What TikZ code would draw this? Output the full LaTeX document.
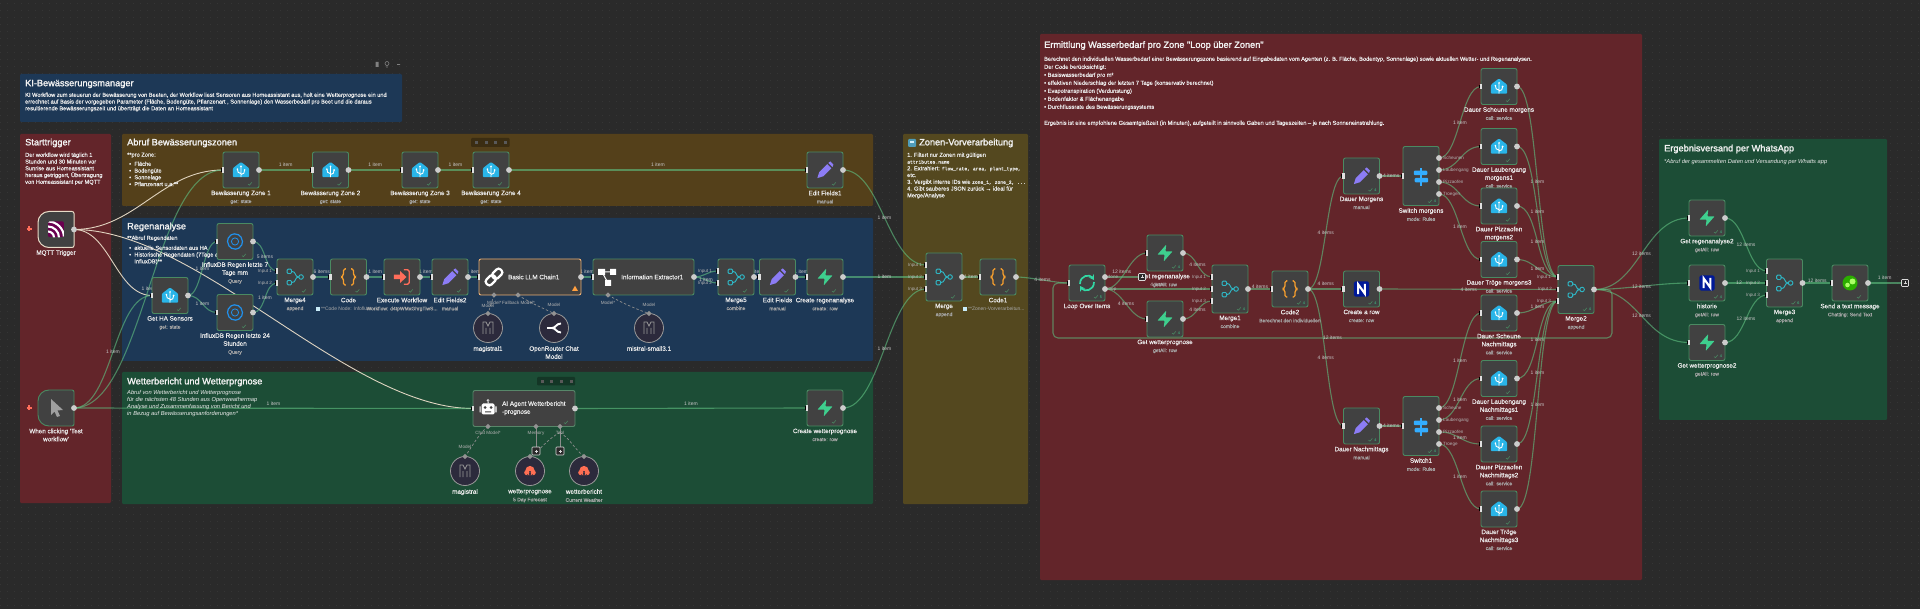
\documentclass[tikz,border=0pt]{standalone}
\usepackage{fontspec}
\setmainfont{Liberation Sans}
\setmonofont{Liberation Mono}
\newfontfamily\mdm[FakeBold=0.35]{Liberation Sans}
\newfontfamily\hdg[FakeBold=1.6]{Liberation Sans}
\newfontfamily\mnf[FakeBold=0.4]{Liberation Mono}
\usetikzlibrary{calc,arrows.meta}
\pgfdeclarelayer{groups}\pgfdeclarelayer{edges}
\pgfsetlayers{groups,edges,main}
\definecolor{bgc}{HTML}{2A2A2A}
\definecolor{dotc}{HTML}{353535}
\definecolor{gblue}{HTML}{1D3856}
\definecolor{gred}{HTML}{63252A}
\definecolor{gbrown}{HTML}{54401A}
\definecolor{ggreen}{HTML}{1C4D36}
\definecolor{golive}{HTML}{54481F}
\definecolor{nfill}{HTML}{414141}
\definecolor{nedge}{HTML}{4A8A62}
\definecolor{subc}{HTML}{A8A8A8}
\definecolor{wirec}{HTML}{5FBE80}
\definecolor{palec}{HTML}{E8DCC8}
\definecolor{teal1}{HTML}{2FB6C4}
\definecolor{ha}{HTML}{29B5E8}
\definecolor{supa}{HTML}{3ECF8E}
\definecolor{purp}{HTML}{8C7CF5}
\definecolor{orng}{HTML}{F59E2E}
\definecolor{cored}{HTML}{FF6D5A}
\definecolor{circf}{HTML}{2C2A3C}
\newcommand\fsz[2]{\fontsize{#1}{#2}\selectfont}
\newcommand\subf{\fontsize{5}{8}\selectfont\color{subc}}
\newcommand\mon[1]{{\mnf\fontsize{4.7}{6.75}\selectfont #1}}
\tikzset{
  x=1pt,y=-1pt,
  nbox/.style={draw=nedge,fill=nfill,line width=.9pt,rounded corners=2pt,minimum width=36pt,minimum height=36pt,inner sep=0pt,outer sep=0pt},
  circbox/.style={circle,draw=gray!80,fill=circf,line width=.8pt,minimum size=29pt,inner sep=0pt,outer sep=0pt},
  nlabel/.style={font=\mdm\fsz{6.3}{8},text=white!92!black,align=center,inner sep=0pt,anchor=north},
  wire/.style={draw=wirec,draw opacity=.62,line width=1.1pt},
  pale/.style={draw=palec,draw opacity=.95,line width=.9pt},
  subwire/.style={draw=gray!90!white,dashed,line width=.7pt,dash pattern=on 2.5pt off 2pt},
  elab/.style={font=\fsz{5}{6},text=white!78!black,inner sep=0pt},
  plab/.style={font=\fsz{4.6}{6},text=white!70!black,inner sep=0pt},
  heading/.style={font=\hdg\fsz{9.2}{11},text=white!95!black,anchor=west,inner sep=0pt},
  desc/.style={font=\mdm\fsz{5.65}{6.75},text=white!92!black,anchor=north west,align=left,inner sep=0pt},
  idesc/.style={font=\itshape\fsz{5.75}{6.75},text=white!92!black,anchor=north west,align=left,inner sep=0pt},
  plusbox/.style={draw=white!85!black,fill=bgc,line width=.6pt,rounded corners=.8pt,minimum size=7pt,inner sep=0pt,outer sep=0pt},
}
% icons
\newcommand\icoHA[1]{\begin{scope}[shift={(#1)},scale=.9]
 \fill[ha,rounded corners=1pt] (0,-9)--(9,-2)--(9,8)--(-9,8)--(-9,-2)--cycle;
 \draw[white,line width=.9pt] (0,8)--(0,-4) (0,4) .. controls (-3,4) and (-4,2) .. (-4,-1) (0,5) .. controls (3,5) and (4,3) .. (4,0);
 \fill[white] (0,-4) circle (1) (-4,-1) circle (1) (4,0) circle (1);
\end{scope}}
\newcommand\icoMerge[1]{\begin{scope}[shift={(#1)},scale=.87]
 \draw[teal1,line width=.95pt,rounded corners=1pt] (-9,-9) rectangle (-4,-4) (-9,4) rectangle (-4,9);
 \draw[teal1,line width=.95pt] (7,0) circle (2.6) (-4,-6.5) .. controls (2,-6.5) and (-1,0) .. (4.4,0) (-4,6.5) .. controls (2,6.5) and (-1,0) .. (4.4,0);
\end{scope}}
\newcommand\icoCode[1]{\begin{scope}[shift={(#1)},scale=.9]
 \draw[orng,line width=1.3pt,rounded corners=1.5pt] (-3,-9)--(-5.5,-9)--(-5.5,-2)--(-8,0)--(-5.5,2)--(-5.5,9)--(-3,9);
 \draw[orng,line width=1.3pt,rounded corners=1.5pt] (3,-9)--(5.5,-9)--(5.5,-2)--(8,0)--(5.5,2)--(5.5,9)--(3,9);
\end{scope}}
\newcommand\icoExec[1]{\begin{scope}[shift={(#1)},scale=.9]
 \fill[cored] (-9,-2.5)--(-2,-2.5)--(-2,-6.5)--(5,0)--(-2,6.5)--(-2,2.5)--(-9,2.5)--cycle;
 \draw[cored,line width=1.3pt,rounded corners=1.5pt] (2,-8)--(8,-8)--(8,8)--(2,8);
\end{scope}}
\newcommand\icoEdit[1]{\begin{scope}[shift={(#1)},scale=.9]
 \fill[purp] (-8.5,9)--(-6.5,2.5)--(2.5,-6.5)--(7,-2)--(-2,7)--cycle;
 \fill[purp] (3.8,-7.8)--(5.8,-9.6)--(9.4,-6)--(8.2,-3.2)--cycle;
\end{scope}}
\newcommand\icoSupa[1]{\begin{scope}[shift={(#1)},scale=.84]
 \fill[supa,rounded corners=.6pt] (1.5,-10)--(-9,2)--(-.5,2)--(-1.5,10)--(9,-2)--(.5,-2)--cycle;
\end{scope}}
\newcommand\icoInflux[1]{\begin{scope}[shift={(#1)},scale=.9]
 \draw[ha!80!blue,line width=1.2pt,rounded corners=2pt] (-3,-9)--(6,-7)--(9,2)--(3,9)--(-6,7)--(-9,-2)--cycle;
 \draw[ha!80!blue,line width=.8pt] (0,0) circle (4);
\end{scope}}
\newcommand\icoNotion[1]{\begin{scope}[shift={(#1)},scale=.84]
 \fill[blue!55!black!90!cyan,rounded corners=1.5pt] (-9,-9) rectangle (9,9);
 \draw[white,line width=2.1pt,line join=miter] (-4,6)--(-4,-5.5)--(4,5.5)--(4,-6);
\end{scope}}
\newcommand\icoLoop[1]{\begin{scope}[shift={(#1)}]
 \draw[supa!80!cyan,line width=1.7pt,-{Stealth[length=5pt,width=6pt]}] (-7,1) .. controls (-7,-8) and (3,-9) .. (7,-3);
 \draw[supa!80!cyan,line width=1.7pt,-{Stealth[length=5pt,width=6pt]}] (7,-1) .. controls (7,8) and (-3,9) .. (-7,3);
\end{scope}}
\newcommand\icoSwitch[1]{\begin{scope}[shift={(#1)},scale=.9]
 \fill[blue!40!cyan!80!white] (-1,-9) rectangle (1,11);
 \fill[blue!40!cyan!80!white,rounded corners=1pt] (-8,-6) rectangle (7,-1) (-7,2) rectangle (8,7);
\end{scope}}
\newcommand\icoLink[1]{\begin{scope}[shift={(#1)},rotate=45]
 \draw[white,line width=2.2pt,rounded corners=2.8pt] (-10,-3.5) rectangle (1,3.5) (-1,-3.5) rectangle (10,3.5);
\end{scope}}
\newcommand\icoTree[1]{\begin{scope}[shift={(#1)}]
 \draw[white,line width=1pt] (-5,-5)--(6,-5) (-5,-5)--(1,6);
 \fill[white] (-9,-8) rectangle (-2,-2) (3,-8) rectangle (9,-2) (-2,3) rectangle (4,9);
\end{scope}}
\newcommand\icoRobot[1]{\begin{scope}[shift={(#1)}]
 \fill[white,rounded corners=1.5pt] (-6.5,-5) rectangle (6.5,6);
 \fill[white] (-8.5,-2) rectangle (-7.3,4) (7.3,-2) rectangle (8.5,4) (0,-8) circle (1.3) (-.5,-8) rectangle (.5,-5);
 \fill[nfill] (-3,-1) circle (1.5) (3,-1) circle (1.5) (-3,3) rectangle (3,4);
\end{scope}}
\newcommand\icoMistral[1]{\begin{scope}[shift={(#1)}]
 \draw[gray!80,line width=.7pt] (-5,6)--(-5,-6)--(-2,-6)--(0,-2)--(2,-6)--(5,-6)--(5,6) (-2,6)--(-2,0) (2,6)--(2,0);
\end{scope}}
\newcommand\icoRouter[1]{\begin{scope}[shift={(#1)}]
 \draw[white,line width=1.9pt] (7,-4.5) .. controls (2,-4.5) and (2,0) .. (-2,0) .. controls (2,0) and (2,4.5) .. (7,4.5) (-7,0)--(-1,0);
\end{scope}}
\newcommand\icoWeather[1]{\begin{scope}[shift={(#1)}]
 \fill[cored!92!orange] (0,-.5) circle (4.6) (-3.2,1.6) circle (2.6) (3.2,1.6) circle (2.6) (-3.2,0) rectangle (3.2,4.2);
\end{scope}}
\newcommand\icoChat[1]{\begin{scope}[shift={(#1)}]
 \fill[green!60!olive!85!black] (0,0) circle (7.5);
 \fill[green!55!yellow!60!white] (2.5,-1.5) circle (3) (-2.5,2) circle (2.3);
\end{scope}}
\newcommand\icoMqtt[1]{\begin{scope}[shift={(#1)}]
 \begin{scope}\clip[rounded corners=1.5pt] (-8,-8) rectangle (8,8);
 \fill[violet!70!black!90!red] (-8,-8) rectangle (8,8);
 \draw[white,line width=2.1pt] (-8,8) circle (6) (-8,8) circle (11) (-8,8) circle (16);
 \end{scope}
\end{scope}}
\newcommand\icoCursor[1]{\begin{scope}[shift={(#1)}]
 \fill[gray!75!white] (-5,-9)--(7,2)--(1.5,2.5)--(4,8)--(1,9)--(-1.5,3.5)--(-5,7)--cycle;
\end{scope}}
% helpers
\newcommand\mk[6][]{\node[nbox,#1] (#2) at (#3) {};
 \csname ico#4\endcsname{#2.center}
 \node[nlabel] (#2-l) at ($(#2.south)+(0,2.5)$) {#5\\{\subf #6}};}
\newcommand\outp[1]{\fill[white!80!black,shift={(#1)}] (0,0) circle (2.9);}
\newcommand\inp[1]{\fill[white!88!black,shift={(#1)}] (-1.4,-2.6) rectangle (1.4,2.6);\fill[black,shift={(#1)}] (-2.2,-1.6) rectangle (-1.4,1.6);}
\newcommand\pp[1]{\inp{#1.west}\outp{#1.east}}
\newcommand\tck[1]{\draw[nedge,line width=.55pt,shift={($(#1.south east)+(-9,-4)$)}] (-2,0)--(-.6,1.2)--(1.8,-1.6);}
\newcommand\cnt[2]{\tck{#1}\node[font=\fsz{3.8}{4},text=supa,inner sep=0pt] (#1-c) at ($(#1.south east)+(-4,-4)$) {#2};}
\newcommand\eds[5][]{\begin{pgfonlayer}{edges}\draw[wire,#1] (#2) -- node[elab,yshift=#4] {#5} (#3);\end{pgfonlayer}}
\newcommand\edc[5][]{\begin{pgfonlayer}{edges}\draw[wire,#1] (#2) .. controls +(#4,0) and +(-#4,0) .. (#3) node[elab,midway] {#5};\end{pgfonlayer}}
\newcommand\grp[3]{\fill[#1,rounded corners=1.2pt] (#2) rectangle (#3);}
\newcommand\tbar[3]{\fill[black!30!#3,rounded corners=1pt] (#1) rectangle (#2);}
\newcommand\dmd[1]{\fill[gray!85!white,shift={(#1)}] (0,-2.6)--(2.6,0)--(0,2.6)--(-2.6,0)--cycle;}
\begin{document}
\begin{tikzpicture}
\useasboundingbox (0,0) rectangle (1920,609);
\begin{pgfonlayer}{groups}
\fill[bgc] (0,0) rectangle (1920,609);
\foreach \yy in {3,10,...,605} {\draw[dotc,line width=.8pt,dash pattern=on .8pt off 6.2pt] (0,\yy) -- (1920,\yy);}
\grp{gblue}{20,74}{402,122}
\grp{gred}{20,134}{111,503}
\grp{gbrown}{122,134}{873,206}
\grp{gblue}{122,218}{873,361}
\grp{ggreen}{122,372}{873,504}
\grp{golive}{903,134}{1028,504}
\grp{gred}{1040,34}{1642,580}
\grp{ggreen}{1659,139}{1887,420}
\end{pgfonlayer}
% small toolbars
\fill[gray] (375.5,62) rectangle (378.5,67) (397,64.2) rectangle (400,65);
\draw[gray,line width=.6pt] (387,63.5) circle (2) (387,65.5)--(387,68);
\tbar{471,138}{509.5,147}{gbrown}
\tbar{537,377}{575,385.5}{ggreen}
\foreach \xx in {475,485,494,504} {\fill[gray!70!black] (\xx,141) rectangle ++(2.5,3);}
\foreach \xx in {541,550,560,570} {\fill[gray!70!black] (\xx,380) rectangle ++(2.5,2.8);}
% texts of groups
\node[heading] (h0) at (25,84) {KI-Bewässerungsmanager};
\node[desc] (d0) at (25,92.5) {KI Workflow zum steuerun der Bewässerung von Beeten, der Workflow liest Sensoren aus Homeassistant aus, holt eine Wetterprognose ein und\\errechnet auf Basis der vorgegeben Parameter (Fläche, Bodengüte, Pflanzenart , Sonnenlage) den Wasserbedarf pro Beet und die daraus\\resultierende Bewässerungszeit und überträgt die Daten an Homeassistant};
\node[heading] (h1) at (25,143) {Starttrigger};
\node[desc] (d1) at (25,152.5) {Der workflow wird täglich 1\\Stunden und 30 Minuten vor\\Sunrise aus Homeassistant\\heraus getriggert, Übertragung\\von Homeassistant per MQTT};
\node[heading] (h2) at (127,143) {Abruf Bewässerungszonen};
\node[desc] (d2) at (127,152.5) {**pro Zone:};
\node[desc] (d2b) at (129,161.5) {•\ \ Fläche\\•\ \ Bodengüte\\•\ \ Sonnelage\\•\ \ Pflanzenart u.a.**};
\node[heading] (h3) at (127,227) {Regenanalyse};
\node[desc] (d3) at (127,235.5) {**Abruf Regendaten};
\node[desc] (d3b) at (129,245.5) {•\ \ aktuelle Sensordaten aus HA\\•\ \ Historische Regendaten (7Tage aus\\\hphantom{•\ \ }InfluxDB)**};
\node[heading] (h4) at (127,382) {Wetterbericht und Wetterprgnose};
\node[idesc] (d4) at (127,390.5) {Abruf von Wetterbericht und Wetterprognose\\für die nächsten 48 Stunden aus Openweathermap\\Analyse und Zusammenfassung von Bericht und\\in Bezug auf Bewässerungsanforderungen*};
\fill[ha!55!gray,rounded corners=1pt] (908,139) rectangle (916,147);
\fill[white!80!ha] (909.8,141) rectangle (914.2,143);
\node[heading] (h5) at (919,143) {Zonen-Vorverarbeitung};
\node[desc] (d5) at (907,152.5) {1. Filtert nur Zonen mit gültigen\\\mon{attributes.name}\\2. Extrahiert: \mon{flow\_rate, area, plant\_type,}\\etc.\\3. Vergibt interne IDs wie \mon{zone\_1, zone\_2, ...}\\4. Gibt sauberes JSON zurück → ideal für\\Merge/Analyse};
\node[heading] (h6) at (1044,45.5) {Ermittlung Wasserbedarf pro Zone "Loop über Zonen"};
\node[desc,font=\mdm\fsz{5.65}{8}] (d6) at (1044,56.5) {Berechnet den individuellen Wasserbedarf einer Bewässerungszone basierend auf Eingabedaten vom Agenten (z. B. Fläche, Bodentyp, Sonnenlage) sowie aktuellen Wetter- und Regenanalysen.\\Der Code berücksichtigt:\\• Basiswasserbedarf pro m²\\• effektiven Niederschlag der letzten 7 Tage (konservativ berechnet)\\• Evapotranspiration (Verdunstung)\\• Bodenfaktor \& Flächenangabe\\• Durchflussrate des Bewässerungssystems\\ \\Ergebnis ist eine empfohlene Gesamtgießzeit (in Minuten), aufgeteilt in sinnvolle Gaben und Tageszeiten – je nach Sonneneinstrahlung.};
\node[heading] (h7) at (1664,149) {Ergebnisversand per WhatsApp};
\node[idesc] (d7) at (1664,159) {*Abruf der gesammelten Daten und Versandung per Whatts app};
% trigger column
\node[minimum width=36pt,minimum height=36pt,inner sep=0pt,outer sep=0pt] (mqtt) at (56,229.5) {};
\draw[draw=palec,fill=nfill,line width=1pt,rounded corners=2pt] (63,211.5)--(74,211.5)--(74,247.5)--(63,247.5) [rounded corners=11pt] --(38,247.5)--(38,211.5)--(63,211.5);
\icoMqtt{mqtt.center}
\node[nlabel] (mqtt-l) at (56,250) {MQTT Trigger};
\outp{mqtt.east}
\node[minimum width=36pt,minimum height=36pt,inner sep=0pt,outer sep=0pt] (click) at (56,408) {};
\draw[draw=nedge,fill=nfill,line width=.9pt,rounded corners=2pt] (63,390)--(74,390)--(74,426)--(63,426) [rounded corners=11pt] --(38,426)--(38,390)--(63,390);
\icoCursor{click.center}
\node[nlabel] (click-l) at (56,428.5) {When clicking 'Test\\workflow'};
\outp{click.east}
\draw[cored,line width=1.1pt] (26.5,229)--(31.5,229) (29,226.5)--(29,231.5) (26.5,408)--(31.5,408) (29,405.5)--(29,410.5);
% Abruf
\mk{zone1}{241,170}{HA}{Bewässerung Zone 1}{get: state}
\mk{zone2}{330.5,170}{HA}{Bewässerung Zone 2}{get: state}
\mk{zone3}{420,170}{HA}{Bewässerung Zone 3}{get: state}
\mk{zone4}{491,170}{HA}{Bewässerung Zone 4}{get: state}
\mk{ef1}{825,170}{Edit}{Edit Fields1}{manual}
% Regen
\mk{ha}{170,295.5}{HA}{Get HA Sensors}{get: state}
\mk{i7}{235,241.5}{Influx}{InfluxDB Regen letzte 7\\Tage mm}{Query}
\mk{i24}{235,312.5}{Influx}{InfluxDB Regen letzte 24\\Stunden}{Query}
\mk{m4}{295,277}{Merge}{Merge4}{append}
\mk{code}{348.5,277}{Code}{Code}{}
\mk{exec}{402,277}{Exec}{Execute Workflow}{Workflow: d4tpWMxGhrgTiwS...}
\mk{ef2}{450,277}{Edit}{Edit Fields2}{manual}
\node[nbox,draw=orange!55!white!85!gray,minimum width=102pt] (llm) at (530,277) {};
\icoLink{494,277}
\node[nlabel,anchor=west] (llm-t) at (508,277) {Basic LLM Chain1};
\fill[orange!75!white] (575,285.7)--(578,291)--(572,291)--cycle;
\node[nbox,minimum width=101pt] (info) at (643.5,277) {};
\icoTree{607,277}
\node[nlabel,anchor=west] (info-t) at (621,277) {Information Extractor1};
\mk{m5}{736,277}{Merge}{Merge5}{combine}
\mk{ef}{777.5,277}{Edit}{Edit Fields}{manual}
\mk{cr}{825,277}{Supa}{Create regenanalyse}{create: row}
\fill[white!75!ha] (316,307) rectangle (320,311);
\node[font=\subf,anchor=west,inner sep=0pt] (code-s) at (321,309) {**Code Node: Infofluss};
\node[circbox] (mag1) at (488,328) {}; \icoMistral{mag1.center}
\node[nlabel] (mag1-l) at (488,346) {magistral1};
\node[circbox] (orc) at (554,328) {}; \icoRouter{orc.center}
\node[nlabel] (orc-l) at (554,346) {OpenRouter Chat\\Model};
\node[circbox] (mis) at (649,328) {}; \icoMistral{mis.center}
\node[nlabel] (mis-l) at (649,346) {mistral-small3.1};
% Wetter
\node[nbox,draw=nedge!75!gray,minimum width=102pt] (agent) at (524,408.5) {};
\icoRobot{488,408.5}
\node[nlabel,anchor=north west,align=left] (agent-t) at (502,401) {AI Agent Wetterbericht\\-prognose};
\mk{cw}{825,408}{Supa}{Create wetterprognose}{create: row}
\node[circbox] (mag) at (465,471) {}; \icoMistral{mag.center}
\node[nlabel] (mag-l) at (465,489) {magistral};
\node[circbox] (wp) at (530,471) {}; \icoWeather{wp.center}
\node[nlabel] (wp-l) at (530,489) {wetterprognose\\{\subf 5 Day Forecast}};
\node[circbox] (wb) at (584,471) {}; \icoWeather{wb.center}
\node[nlabel] (wb-l) at (584,489) {wetterbericht\\{\subf Current Weather}};
\node[plusbox,minimum size=8pt] (pmem) at (536,451) {};
\node[plusbox,minimum size=8pt] (ptool) at (560,451) {};
\draw[white!85!black,line width=.5pt] (534.5,451)--(537.5,451) (536,449.5)--(536,452.5) (558.5,451)--(561.5,451) (560,449.5)--(560,452.5);
% Zonen
\mk[minimum height=48pt]{mz}{944,277}{Merge}{Merge}{append}
\mk{code1}{998,277}{Code}{Code1}{}
\fill[white!75!ha] (963,307) rectangle (967,311);
\node[font=\subf,anchor=west,inner sep=0pt] (code1-s) at (968,309) {**Zonen-Vorverarbeitun...};
% Loop
\mk{loop}{1087,283}{Loop}{Loop Over Items}{}
\mk{gr}{1165,253}{Supa}{Get regenanalyse}{getAll: row}
\mk{gw}{1165,319}{Supa}{Get wetterprognose}{getAll: row}
\mk[minimum height=48pt]{m1}{1230,289}{Merge}{Merge1}{combine}
\mk{code2}{1290,289}{Code}{Code2}{Berechnet den individuellen}
\mk{row}{1361.5,289}{Notion}{Create a row}{create: row}
\mk{dm}{1361.5,176}{Edit}{Dauer Morgens}{manual}
\mk[minimum height=59pt]{swm}{1421,176}{Switch}{Switch morgens}{mode: Rules}
\mk{zsm}{1499,86.5}{HA}{Dauer Scheune morgens}{call: service}
\mk{zlm}{1499,146.5}{HA}{Dauer Laubengang\\morgens1}{call: service}
\mk{zpm}{1499,206}{HA}{Dauer Pizzaofen\\morgens2}{call: service}
\mk{ztm}{1499,259.5}{HA}{Dauer Tröge morgens3}{call: service}
\mk{zsn}{1499,313}{HA}{Dauer Scheune\\Nachmittags}{call: service}
\mk{zln}{1499,378.5}{HA}{Dauer Laubengang\\Nachmittags1}{call: service}
\mk{zpn}{1499,444}{HA}{Dauer Pizzaofen\\Nachmittags2}{call: service}
\mk{ztn}{1499,509}{HA}{Dauer Tröge\\Nachmittags3}{call: service}
\mk{dn}{1361.5,426}{Edit}{Dauer Nachmittags}{manual}
\mk[minimum height=59pt]{swn}{1421,426}{Switch}{Switch1}{mode: Rules}
\mk[minimum height=48pt]{m2}{1576,289.5}{Merge}{Merge2}{append}
% WhatsApp
\mk{gr2}{1707,218}{Supa}{Get regenanalyse2}{getAll: row}
\mk{hist}{1707,283}{Notion}{historie}{getAll: row}
\mk{gw2}{1707,342.5}{Supa}{Get wetterprognose2}{getAll: row}
\mk[minimum height=48pt]{m3}{1784.5,283}{Merge}{Merge3}{append}
\mk{send}{1850,283}{Chat}{Send a text message}{Chatting: Send Text}
\node[plusbox] (endp) at (1905,283) {};
\draw[white!85!black,line width=.5pt] (1903.5,283)--(1906.5,283) (1905,281.5)--(1905,284.5);
\node[plusbox] (loopp) at (1142,277) {};
\draw[white!85!black,line width=.5pt] (1140.5,277)--(1143.5,277) (1142,275.5)--(1142,278.5);
% named port positions
\foreach \nm/\xx/\yy in {mz1/926/265,mz2/926/277,mz3/926/289,m41/277/271,m42/277/283,m51/718/271,m52/718/283,m11/1212/277,m12/1212/289,m13/1212/301,m21/1558/277,m22/1558/289.5,m23/1558/301,m31/1767/271,m32/1767/283,m33/1767/295}{\coordinate (\nm) at (\xx,\yy); \inp{\nm}}
\foreach \nm/\xx/\yy in {lpd/1105/277,lpl/1105/289,sm1/1439/158,sm2/1439/170,sm3/1439/182,sm4/1439/194,sn1/1439/408,sn2/1439/420,sn3/1439/432,sn4/1439/444}{\coordinate (\nm) at (\xx,\yy); \outp{\nm}}
\foreach \nn in {zone1,zone2,zone3,zone4,ef1,ha,i7,i24,code,exec,ef2,llm,info,ef,cr,agent,cw,code1,gr,gw,code2,row,dm,zsm,zlm,zpm,ztm,zsn,zln,zpn,ztn,dn,gr2,hist,gw2,send}{\pp{\nn}}
\foreach \nn in {m4,m5,mz,m1,m2,m3}{\outp{\nn.east}}
\foreach \nn in {swm,swn,loop}{\inp{\nn.west}}
\foreach \nn in {zone1,zone2,zone3,zone4,ef1,ha,i7,i24,m4,code,exec,ef2,m5,ef,cr,agent,cw,mz,code1,zsm,zlm,zpm,ztm,zsn,zln,zpn,ztn,send}{\tck{\nn}}
\foreach \nn/\cc in {gr/4,gw/4,m1/4,code2/4,row/4,dm/4,swm/4,dn/4,swn/4,m2/4,gr2/4,hist/4,gw2/4,m3/6,loop/5}{\cnt{\nn}{\cc}}
% sub-node ports
\coordinate (llmA) at (494,295); \coordinate (llmB) at (518,295); \coordinate (infoA) at (608,295);
\coordinate (agA) at (488,426.5); \coordinate (agB) at (536,426.5); \coordinate (agC) at (560,426.5);
\foreach \pt in {llmA,llmB,infoA,agA,agB,agC,mag1.north,orc.north,mis.north,mag.north,wp.north,wb.north}{\dmd{\pt}}
\node[plab] (pl1) at (511,302.5) {Model*\,Fallback Model*};
\node[plab] (pl2) at (608,302.5) {Model*};
\node[plab] (pl3) at (488,306) {Model};
\node[plab] (pl4) at (554,305) {Model};
\node[plab] (pl5) at (649,305) {Model};
\node[plab] (pl6) at (488,433) {Chat Model*};
\node[plab] (pl7) at (536,433) {Memory};
\node[plab] (pl8) at (560,433) {Tool};
\node[plab] (pl9) at (465,447) {Model};
% input labels
\foreach \nm/\xx/\yy/\tt in {a1/265/271/Input 1,a2/265/283/Input 2,b1/705/271/Input 1,b2/705/283/Input 2,c1/915/265/Input 1,c2/915/277/Input 2,c3/915/289/Input 3,e1/1199/277/Input 1,e2/1199/289/Input 2,e3/1199/301/Input 3,f1/1544/277/Input 1,f2/1545/289/Input 2,f3/1544/301/Input 3,g1/1753/271/Input 1,g2/1753/283/Input 2,g3/1753/295/Input 3}{\node[plab] (il\nm) at (\xx,\yy) {\tt};}
\node[plab] (plD) at (1113,277) {done};
\node[plab] (plL) at (1112,289) {loop};
\foreach \nm/\pt/\tt in {sa1/sm1/Scheunen,sa2/sm2/Laubengang,sa3/sm3/Pizzaofen,sa4/sm4/Troegen,sb1/sn1/Scheune,sb2/sn2/Laubengang,sb3/sn3/Pizzaofen,sb4/sn4/Troege}{\node[plab,anchor=west,xshift=4pt] (\nm) at (\pt) {\tt};}
% connectors
\eds{zone1.east}{zone2.west}{5pt}{1 item}
\eds{zone2.east}{zone3.west}{5pt}{1 item}
\eds{zone3.east}{zone4.west}{5pt}{1 item}
\eds{zone4.east}{ef1.west}{5pt}{1 item}
\edc{ef1.east}{mz1}{38}{1 item}
\eds{cr.east}{mz2}{0pt}{1 item}
\edc{cw.east}{mz3}{38}{1 item}
\eds{mz.east}{code1.west}{0pt}{1 item}
\edc{code1.east}{loop.west}{14}{4 items}
\edc[pale]{mqtt.east}{zone1.west}{62}{}
\edc[pale]{mqtt.east}{ha.west}{36}{}
\edc[pale]{mqtt.east}{agent.west}{125}{}
\edc{click.east}{zone1.west}{70}{1 item}
\edc{click.east}{ha.west}{38}{1 item}
\eds{click.east}{agent.west}{5pt}{1 item}
\edc{ha.east}{i7.west}{14}{1 item}
\edc{ha.east}{i24.west}{14}{1 item}
\edc{i7.east}{m41}{13}{5 items}
\edc{i24.east}{m42}{13}{1 item}
\eds{m4.east}{code.west}{5pt}{6 items}
\eds{code.east}{exec.west}{5pt}{1 item}
\eds{exec.east}{ef2.west}{5pt}{1 item}
\eds{ef2.east}{llm.west}{5pt}{1 item}
\eds{llm.east}{info.west}{5pt}{1 item}
\edc{info.east}{m51}{10}{}
\edc{info.east}{m52}{10}{1 item}
\eds{m5.east}{ef.west}{5pt}{1 item}
\eds{ef.east}{cr.west}{5pt}{1 item}
\eds{agent.east}{cw.west}{5pt}{1 item}
\eds{lpd}{loopp.west}{5pt}{12 items}
\edc{lpl}{gr.west}{18}{}
\edc{lpl}{gw.west}{18}{4 items}
\eds{lpl}{m12}{4pt}{4 items}
\edc{gr.east}{m11}{14}{4 items}
\edc{gw.east}{m13}{14}{4 items}
\eds{m1.east}{code2.west}{2pt}{4 items}
\edc{code2.east}{dm.west}{18}{4 items}
\eds{code2.east}{row.west}{5pt}{4 items}
\edc{code2.east}{dn.west}{18}{4 items}
\eds{row.east}{m22}{0pt}{4 items}
\eds{dm.east}{swm.west}{0pt}{4 items}
\eds{dn.east}{swn.west}{0pt}{4 items}
\edc{sm1}{zsm.west}{20}{1 item}
\edc{sm2}{zlm.west}{20}{}
\edc{sm3}{zpm.west}{20}{}
\edc{sm4}{ztm.west}{20}{1 item}
\edc{sn1}{zsn.west}{20}{1 item}
\edc{sn2}{zln.west}{20}{1 item}
\edc{sn3}{zpn.west}{20}{1 item}
\edc{sn4}{ztn.west}{20}{1 item}
\edc{zsm.east}{m21}{22}{1 item}
\edc{zlm.east}{m21}{22}{1 item}
\edc{zpm.east}{m21}{22}{1 item}
\edc{ztm.east}{m21}{18}{1 item}
\edc{zsn.east}{m23}{18}{1 item}
\edc{zln.east}{m23}{22}{1 item}
\edc{zpn.east}{m23}{22}{1 item}
\edc{ztn.east}{m23}{22}{1 item}
\coordinate (fbR) at (1612,338); \coordinate (fbL) at (1053,338);
\begin{pgfonlayer}{edges}
\draw[wire,rounded corners=5pt] (m2.east) -| (fbR) -- node[elab] {12 items} (fbL) |- (loop.west);
\draw[subwire] (llmA) -- (mag1.north);
\draw[subwire] (llmB) .. controls +(12,8) and +(-8,-4) .. (orc.north);
\draw[subwire] (infoA) .. controls +(14,8) and +(-12,-4) .. (mis.north);
\draw[subwire] (agA) .. controls +(-10,8) and +(6,-8) .. (mag.north);
\draw[subwire] (agC) ++(0,6) .. controls +(-12,6) and +(12,-8) .. (wp.north);
\draw[subwire] (agC) ++(0,6) .. controls +(10,6) and +(-10,-8) .. (wb.north);
\draw[draw=gray!90!white,line width=.7pt] (agB) -- (pmem.north) (agC) -- (ptool.north);
\end{pgfonlayer}
\edc{m2.east}{gr2.west}{45}{12 items}
\edc{m2.east}{hist.west}{30}{12 items}
\edc{m2.east}{gw2.west}{45}{12 items}
\edc{gr2.east}{m31}{20}{12 items}
\edc{hist.east}{m32}{12}{}
\edc{gw2.east}{m33}{20}{12 items}
\node[elab] (histl) at (1739,283) {12};
\eds{m3.east}{send.west}{2pt}{12 items}
\eds{send.east}{endp.west}{5pt}{1 item}
\end{tikzpicture}
\end{document}
